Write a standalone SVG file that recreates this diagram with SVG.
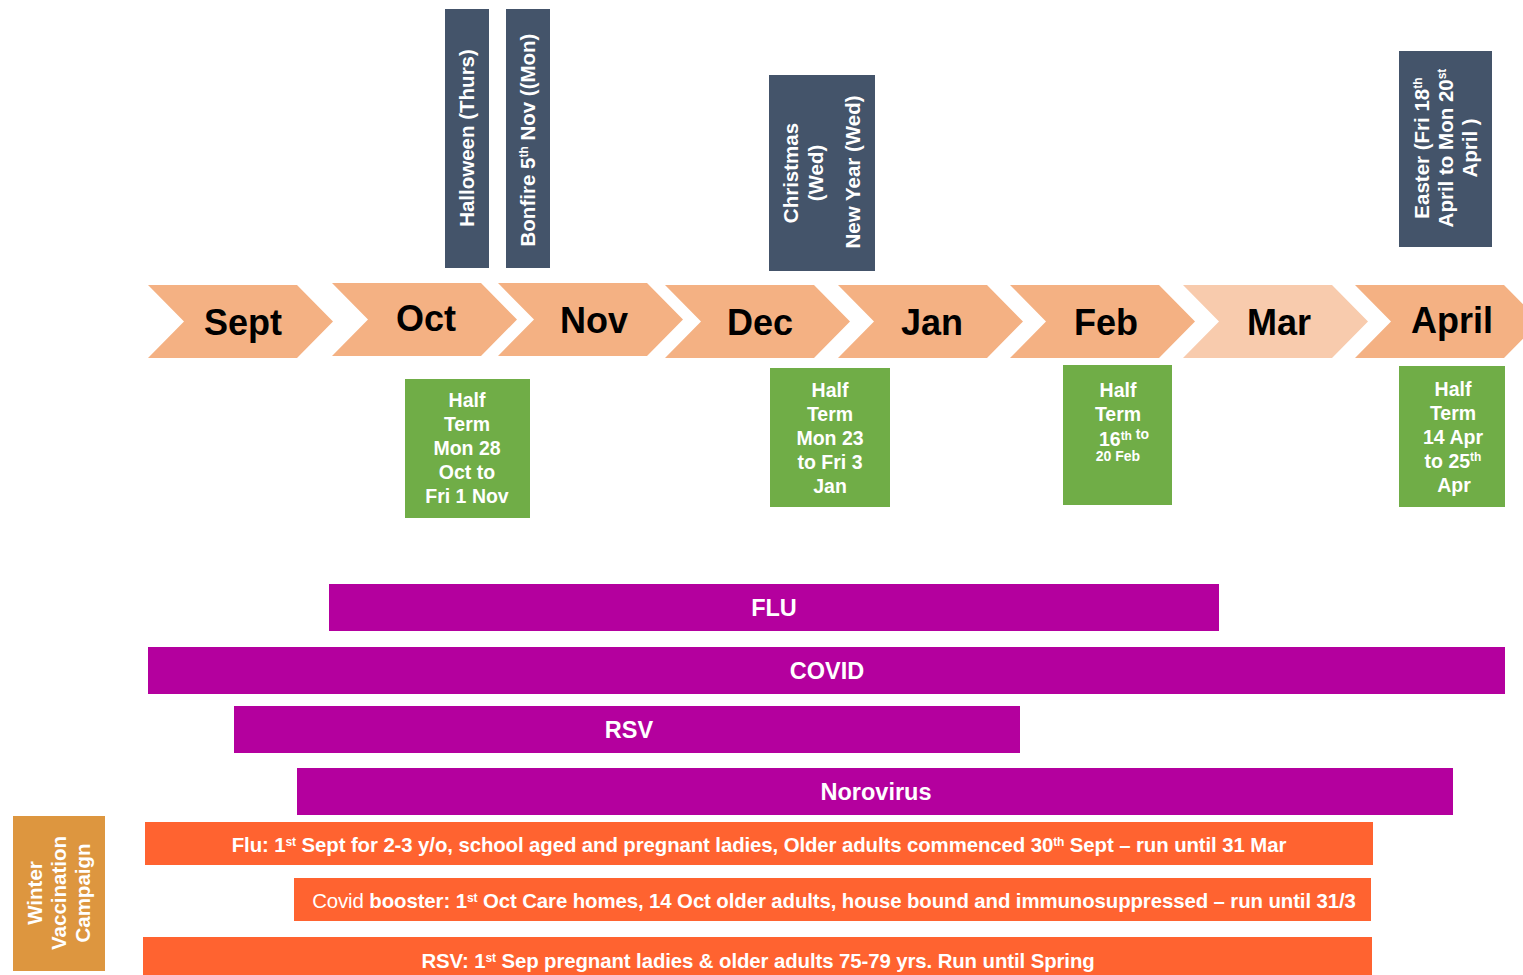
<svg xmlns="http://www.w3.org/2000/svg" width="1523" height="975" viewBox="0 0 1523 975">
<style>
text{font-family:"Liberation Sans",Arial,sans-serif;font-weight:bold}
.mon{font-size:36px;fill:#000;text-anchor:middle}
.chev{fill:#F4B183}
.dark{fill:#44546A}
.dt{font-size:20.5px;fill:#fff;text-anchor:middle}
.green{fill:#70AD47}
.gt{font-size:19.5px;fill:#fff;text-anchor:middle}
.pur{fill:#B4009E}
.pt{font-size:23.5px;fill:#fff;text-anchor:middle}
.org{fill:#FF6330}
.ot{font-size:20.4px;fill:#fff;text-anchor:middle;letter-spacing:-0.1px}
.sup{font-size:12px}
</style>
<rect width="1523" height="975" fill="#fff"/>
<g id="holidays">
<g id="halloween"><rect class="dark" x="445" y="9" width="44" height="259"/><text class="dt" transform="rotate(-90 474 138)" x="474" y="138">Halloween (Thurs)</text></g>
<g id="bonfire"><rect class="dark" x="506" y="9" width="44" height="259"/><text class="dt" transform="rotate(-90 535 140)" x="535" y="140">Bonfire 5<tspan class="sup" dy="-7">th</tspan><tspan dy="7"> Nov ((Mon)</tspan></text></g>
<g id="christmas"><rect class="dark" x="769" y="75" width="106" height="196"/><text class="dt" transform="rotate(-90 798 173)" x="798" y="173">Christmas</text><text class="dt" transform="rotate(-90 823 173)" x="823" y="173">(Wed)</text><text class="dt" transform="rotate(-90 860 172)" x="860" y="172">New Year (Wed)</text></g>
<g id="easter"><rect class="dark" x="1399" y="51" width="93" height="196"/><text class="dt" transform="rotate(-90 1429 148)" x="1429" y="148">Easter (Fri 18<tspan class="sup" dy="-7">th</tspan></text><text class="dt" transform="rotate(-90 1453 148)" x="1453" y="148">April to Mon 20<tspan class="sup" dy="-7">st</tspan></text><text class="dt" transform="rotate(-90 1477 148)" x="1477" y="148">April )</text></g>
</g>
<g id="months">
<g id="sept"><polygon class="chev" points="148,285 297,285 333,321.5 297,358 148,358 184,321.5"/><text class="mon" x="243" y="335">Sept</text></g>
<g id="oct"><polygon class="chev" points="332,283 481,283 517,319.5 481,356 332,356 368,319.5"/><text class="mon" x="426" y="331">Oct</text></g>
<g id="nov"><polygon class="chev" points="498,283 647,283 683,319.5 647,356 498,356 534,319.5"/><text class="mon" x="594" y="333">Nov</text></g>
<g id="dec"><polygon class="chev" points="665,285 814,285 850,321.5 814,358 665,358 701,321.5"/><text class="mon" x="760" y="335">Dec</text></g>
<g id="jan"><polygon class="chev" points="838,285 987,285 1023,321.5 987,358 838,358 874,321.5"/><text class="mon" x="932" y="335">Jan</text></g>
<g id="feb"><polygon class="chev" points="1010,285 1159,285 1195,321.5 1159,358 1010,358 1046,321.5"/><text class="mon" x="1106" y="335">Feb</text></g>
<g id="mar"><polygon points="1183,285 1332,285 1368,321.5 1332,358 1183,358 1219,321.5" fill="#F8CBAD"/><text class="mon" x="1279" y="335">Mar</text></g>
<g id="april"><polygon class="chev" points="1355,285 1504,285 1540,321.5 1504,358 1355,358 1391,321.5"/><text class="mon" x="1452" y="333">April</text></g>
</g>
<g id="halfterms">
<g id="ht-oct"><rect class="green" x="405" y="379" width="125" height="139"/><text class="gt" x="467" y="407">Half</text><text class="gt" x="467" y="431">Term</text><text class="gt" x="467" y="455">Mon 28</text><text class="gt" x="467" y="479">Oct to</text><text class="gt" x="467" y="503">Fri 1 Nov</text></g>
<g id="ht-dec"><rect class="green" x="770" y="368" width="120" height="139"/><text class="gt" x="830" y="397">Half</text><text class="gt" x="830" y="421">Term</text><text class="gt" x="830" y="445">Mon 23</text><text class="gt" x="830" y="469">to Fri 3</text><text class="gt" x="830" y="493">Jan</text></g>
<g id="ht-feb"><rect class="green" x="1063" y="365" width="109" height="140"/><text class="gt" x="1118" y="397">Half</text><text class="gt" x="1118" y="421">Term</text><text class="gt" x="1124" y="446">16<tspan class="sup" dy="-6">th</tspan><tspan style="font-size:14px" dy="-1"> to</tspan></text><text class="gt" x="1118" y="461" style="font-size:14px">20 Feb</text></g>
<g id="ht-apr"><rect class="green" x="1399" y="366" width="106" height="141"/><text class="gt" x="1453" y="396">Half</text><text class="gt" x="1453" y="420">Term</text><text class="gt" x="1453" y="444">14 Apr</text><text class="gt" x="1453" y="468">to 25<tspan class="sup" dy="-7">th</tspan></text><text class="gt" x="1454" y="492">Apr</text></g>
</g>
<g id="diseases">
<g id="flu"><rect class="pur" x="329" y="584" width="890" height="47"/><text class="pt" x="774" y="616">FLU</text></g>
<g id="covid"><rect class="pur" x="148" y="647" width="1357" height="47"/><text class="pt" x="827" y="679">COVID</text></g>
<g id="rsv"><rect class="pur" x="234" y="706" width="786" height="47"/><text class="pt" x="629" y="738">RSV</text></g>
<g id="norovirus"><rect class="pur" x="297" y="768" width="1156" height="47"/><text class="pt" x="876" y="800">Norovirus</text></g>
</g>
<g id="campaign">
<g id="winter"><rect x="13" y="816" width="92" height="155" fill="#DD963F"/><text class="dt" transform="rotate(-90 42 893)" x="42" y="893">Winter</text><text class="dt" transform="rotate(-90 66 893)" x="66" y="893">Vaccination</text><text class="dt" transform="rotate(-90 90 893)" x="90" y="893">Campaign</text></g>
<g id="flu-detail"><rect class="org" x="145" y="822" width="1228" height="43"/><text class="ot" x="759" y="852">Flu: 1<tspan class="sup" dy="-6">st</tspan><tspan dy="6"> Sept for 2-3 y/o, school aged and pregnant ladies, Older adults commenced 30</tspan><tspan class="sup" dy="-6">th</tspan><tspan dy="6"> Sept – run until 31 Mar</tspan></text></g>
<g id="covid-detail"><rect class="org" x="294" y="878" width="1077" height="43"/><text class="ot" x="834" y="908"><tspan font-weight="normal">Covid </tspan>booster: 1<tspan class="sup" dy="-6">st</tspan><tspan dy="6"> Oct Care homes, 14 Oct older adults, house bound and immunosuppressed – run until 31/3</tspan></text></g>
<g id="rsv-detail"><rect class="org" x="143" y="937" width="1229" height="40"/><text class="ot" x="758" y="968">RSV: 1<tspan class="sup" dy="-6">st</tspan><tspan dy="6"> Sep pregnant ladies &amp; older adults 75-79 yrs. Run until Spring</tspan></text></g>
</g>
<g id="connectors"/>
</svg>
